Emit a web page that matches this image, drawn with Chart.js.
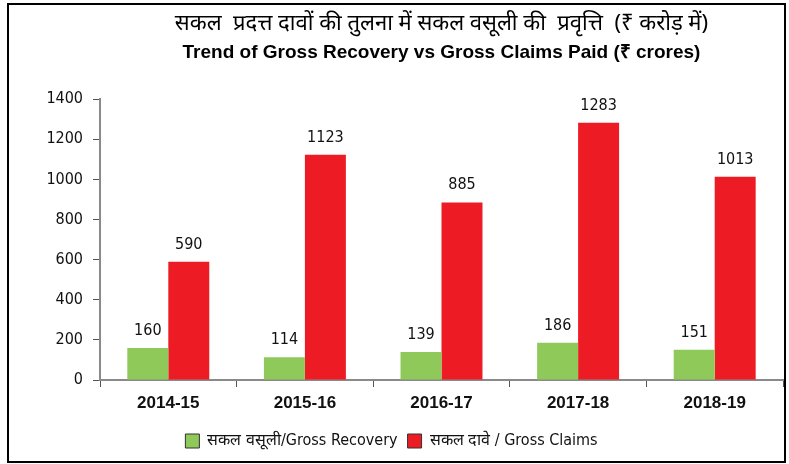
<!DOCTYPE html>
<html>
<head>
<meta charset="utf-8">
<script src="https://cdn.jsdelivr.net/npm/chart.js@4/dist/chart.umd.min.js"></script>
<style>
  html, body { margin: 0; padding: 0; background: #ffffff; }
  #wrap { width: 789px; height: 464px; position: relative; }
</style>
</head>
<body>
<div id="wrap"><canvas id="c" width="789" height="464"></canvas></div>
<script>
// ---- data ----
const categories = ['2014-15', '2015-16', '2016-17', '2017-18', '2018-19'];
const grossRecovery = [160, 114, 139, 186, 151];
const grossClaims = [590, 1123, 885, 1283, 1013];
const yTicks = [0, 200, 400, 600, 800, 1000, 1200, 1400];
const seriesNames = ['सकल वसूली/Gross Recovery', 'सकल दावे / Gross Claims'];
const titleHindi = 'सकल  प्रदत्त दावों की तुलना में सकल वसूली की  प्रवृत्ति  (₹ करोड़ में)';
const titleEnglish = 'Trend of Gross Recovery vs Gross Claims Paid (₹ crores)';

const labelFont = "'DejaVu Sans Condensed', 'DejaVu Sans', sans-serif";

const valueLabels = {
  id: 'valueLabels',
  afterDatasetsDraw(chart) {
    const ctx = chart.ctx;
    ctx.save();
    ctx.font = '16px ' + labelFont;
    ctx.fillStyle = '#111';
    ctx.textAlign = 'center';
    ctx.textBaseline = 'alphabetic';
    chart.data.datasets.forEach((ds, di) => {
      const meta = chart.getDatasetMeta(di);
      meta.data.forEach((bar, i) => {
        ctx.fillText(String(ds.data[i]), bar.x, bar.y - 13);
      });
    });
    ctx.restore();
  }
};

const frame = {
  id: 'frame',
  afterDraw(chart) {
    const ctx = chart.ctx;
    ctx.save();
    ctx.strokeStyle = '#000';
    ctx.lineWidth = 2;
    ctx.strokeRect(8, 4, 777, 458);
    ctx.restore();
  }
};

new Chart(document.getElementById('c'), {
  type: 'bar',
  data: {
    labels: categories,
    datasets: [
      { label: seriesNames[0], data: grossRecovery, backgroundColor: '#8fc95a',
        categoryPercentage: 0.6, barPercentage: 1.0 },
      { label: seriesNames[1], data: grossClaims, backgroundColor: '#ed1c24',
        categoryPercentage: 0.6, barPercentage: 1.0 }
    ]
  },
  options: {
    responsive: false,
    animation: false,
    devicePixelRatio: 1,
    layout: { padding: { top: 0, right: 6, bottom: 5, left: 0 } },
    plugins: {
      title: {
        display: true, text: titleHindi, fullSize: false, color: '#000',
        font: { family: "'Noto Sans', 'Liberation Sans', sans-serif", size: 22, weight: 'normal' },
        padding: { top: 11, bottom: 2 }
      },
      subtitle: {
        display: true, text: titleEnglish, fullSize: false, color: '#000',
        font: { family: "'Liberation Sans', Arial, sans-serif", size: 19, weight: 'bold' },
        padding: { top: 2, bottom: 35 }
      },
      legend: {
        position: 'bottom',
        labels: {
          color: '#111',
          font: { family: labelFont, size: 16 },
          boxWidth: 14, boxHeight: 14, padding: 10,
          generateLabels(chart) {
            const items = Chart.defaults.plugins.legend.labels.generateLabels(chart);
            items.forEach(it => { it.strokeStyle = '#333'; it.lineWidth = 1; });
            return items;
          }
        }
      },
      tooltip: { enabled: false }
    },
    scales: {
      x: {
        afterFit(scale) { scale.height = 43; },
        border: { display: true, color: '#8a8a8a', width: 2 },
        grid: {
          display: true, drawOnChartArea: false, offset: true, tickLength: 7,
          color: (ctx) => (ctx.index === categories.length ? 'rgba(0,0,0,0)' : '#555'),
          lineWidth: 1
        },
        ticks: {
          color: '#111', padding: 6,
          font: { family: "'Liberation Sans', sans-serif", size: 17, weight: 'bold' }
        }
      },
      y: {
        min: 0, max: 1400,
        afterFit(scale) { scale.width = 100; },
        afterBuildTicks(scale) { scale.ticks = yTicks.map(v => ({ value: v })); },
        border: { display: true, color: '#8a8a8a', width: 2 },
        grid: { display: true, drawOnChartArea: false, tickLength: 7, color: '#555', lineWidth: 1 },
        ticks: {
          color: '#111', padding: 10, font: { family: labelFont, size: 16 },
          callback: (v) => String(v)
        }
      }
    }
  },
  plugins: [valueLabels, frame]
});
</script>
</body>
</html>
